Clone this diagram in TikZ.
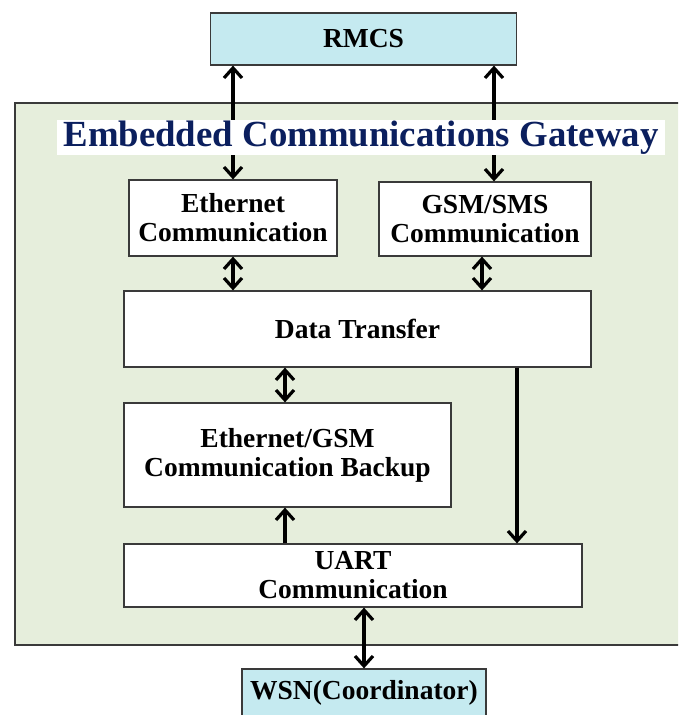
\documentclass[tikz,border=0pt]{standalone}
\usepackage{fontspec}
\setmainfont{Liberation Serif}
\usetikzlibrary{arrows.meta,calc}
\definecolor{panelgreen}{HTML}{E6EEDC}
\definecolor{endcyan}{HTML}{C5EAF0}
\definecolor{navytitle}{HTML}{0B1F5E}
\definecolor{edgegray}{HTML}{3A3A3A}
\tikzset{
  block/.style={draw=edgegray, line width=1.2pt, fill=white, inner sep=0pt,
    align=center, font=\fontsize{27.5}{29}\selectfont\bfseries},
  endpoint/.style={block, fill=endcyan},
  link/.style={line width=3.4pt, black},
  both/.style={link, {Straight Barb[length=10pt,width=18pt,line width=3.2pt]}-{Straight Barb[length=10pt,width=18pt,line width=3.2pt]}},
  fwd/.style={link, -{Straight Barb[length=10pt,width=18pt,line width=3.2pt]}}
}
\begin{document}
\begin{tikzpicture}[x=1pt,y=-1pt]
  \useasboundingbox (0,0) rectangle (678,715);
  \clip (0,0) rectangle (678,715);

  % gateway panel
  \draw[fill=panelgreen, draw=edgegray, line width=1.5pt] (15,103) rectangle (700,645);

  % blocks
  \node[endpoint, minimum width=306pt, minimum height=52pt] (rmcs) at (363.5,39) {RMCS};
  \node[block, minimum width=208pt, minimum height=76pt] (eth) at (233,218) {Ethernet\\Communication};
  \node[block, minimum width=212pt, minimum height=74pt] (gsm) at (485,219) {GSM/SMS\\Communication};
  \node[block, minimum width=467pt, minimum height=76pt] (data) at (357.5,329) {Data Transfer};
  \node[block, minimum width=327pt, minimum height=104pt] (backup) at (287.5,455) {Ethernet/GSM\\Communication Backup};
  \node[block, minimum width=458pt, minimum height=63pt] (uart) at (353,575.5) {UART\\Communication};
  \node[endpoint, minimum width=244pt, minimum height=48pt] (wsn) at (364,693) {WSN(Coordinator)};

  % connector columns
  \coordinate (colA) at (233,0);
  \coordinate (colB) at (494,0);
  \coordinate (colC) at (482,0);
  \coordinate (colD) at (285,0);
  \coordinate (colE) at (517,0);
  \coordinate (colF) at (364,0);

  % connectors
  \draw[both] (rmcs.south -| colA) -- (eth.north -| colA);
  \draw[both] (rmcs.south -| colB) -- (gsm.north -| colB);
  \draw[both] (eth.south -| colA) -- (data.north -| colA);
  \draw[both] (gsm.south -| colC) -- (data.north -| colC);
  \draw[both] (data.south -| colD) -- (backup.north -| colD);
  \draw[fwd] (uart.north -| colD) -- (backup.south -| colD);
  \draw[fwd] (data.south -| colE) -- (uart.north -| colE);
  \draw[both] (uart.south -| colF) -- (wsn.north -| colF);

  % panel title on a white band, laid over the two upper connectors
  \node[fill=white, inner sep=0pt, minimum width=608pt, minimum height=35pt,
        text=navytitle, font=\fontsize{36.8}{40}\selectfont\bfseries]
        (title) at (361,137.5) {Embedded Communications Gateway};
\end{tikzpicture}
\end{document}
